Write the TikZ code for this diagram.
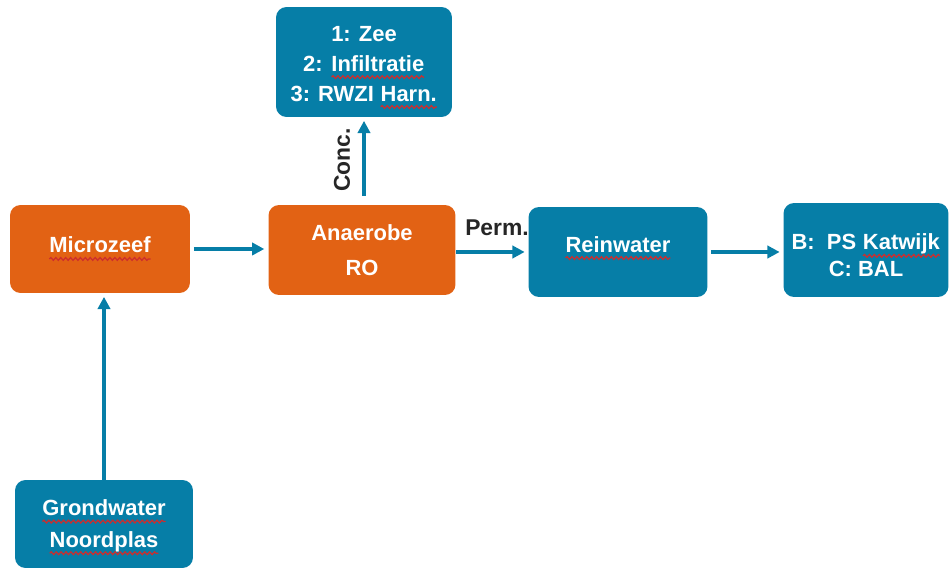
\documentclass[tikz,border=0pt]{standalone}
\usepackage{fontspec}
\setmainfont{Liberation Sans}
\usetikzlibrary{arrows.meta, decorations.pathmorphing}

\definecolor{procorange}{RGB}{226,98,20}
\definecolor{flowblue}{RGB}{6,126,167}
\definecolor{spellred}{RGB}{205,45,45}

% wavy red underline under a word
\newcommand\spell[1]{\tikz[baseline=(w.base), x=1cm, y=1cm]{%
  \node[inner sep=0pt, outer sep=0pt, fill=none, draw=none, rounded corners=0pt, minimum size=0pt] (w) {#1};
  \draw[spellred, line width=0.7pt, rounded corners=0pt, decorate,
    decoration={snake, segment length=2.8pt, amplitude=0.8pt}]
    ([yshift=-3.4pt]w.base west) -- ([yshift=-3.4pt]w.base east);}}

\begin{document}
\begin{tikzpicture}[x=0.02cm, y=-0.02cm, thick,
  box/.style={rounded corners=6pt, text=white, align=center, inner sep=0pt,
    font=\bfseries\fontsize{12.5}{17}\selectfont},
  proc/.style={box, fill=procorange},
  water/.style={box, fill=flowblue},
  lbl/.style={text=black!85, font=\bfseries\fontsize{13}{15}\selectfont, inner sep=0pt},
  flow/.style={draw=flowblue, line width=2pt, -{Triangle[length=7pt,width=7pt]}}]
  \useasboundingbox (0,0) rectangle (950,570);
  % boxes
  \node[proc, minimum width=3.6cm, minimum height=1.76cm] (micro) at (100,249) {\spell{Microzeef}};
  \node[proc, minimum width=3.74cm, minimum height=1.8cm] (ro) at (362,250) {Anaerobe\\[3pt]RO};
  \node[water, minimum width=3.52cm, minimum height=2.2cm] (conc) at (364,62)
    {\rule{0pt}{15pt}1: Zee\\2: \spell{Infiltratie}\\3: RWZI \spell{Harn.}};
  \node[water, minimum width=3.58cm, minimum height=1.8cm] (rein) at (618,252)
    {\spell{Reinwater}\rule[-9pt]{0pt}{9pt}};
  \node[water, minimum width=3.3cm, minimum height=1.88cm] (dest) at (866,250)
    {\rule{0pt}{15pt}B:\ \ PS \spell{Katwijk}\\[-2pt]C: BAL};
  \node[water, minimum width=3.56cm, minimum height=1.76cm] (grond) at (104,524)
    {\rule{0pt}{13pt}\spell{Grondwater}\\[1pt]\spell{Noordplas}};
  % flows
  \draw[flow, shorten <=2pt, shorten >=2pt] (micro.east) -- (micro.east -| ro.west);
  \draw[flow, shorten >=2pt] (rein.west -| ro.east) -- (rein.west);
  \draw[flow, shorten <=2pt, shorten >=2pt] (rein.east) -- (rein.east -| dest.west);
  \draw[flow, shorten <=5pt, shorten >=2pt] (ro.north -| conc.south) -- (conc.south);
  \draw[flow, shorten >=2pt] (grond.north) -- (grond.north |- micro.south);
  % labels
  \node[lbl] (perm) at (497,228) {Perm.};
  \node[lbl, rotate=90] (concl) at (342,160) {Conc.};
\end{tikzpicture}
\end{document}
